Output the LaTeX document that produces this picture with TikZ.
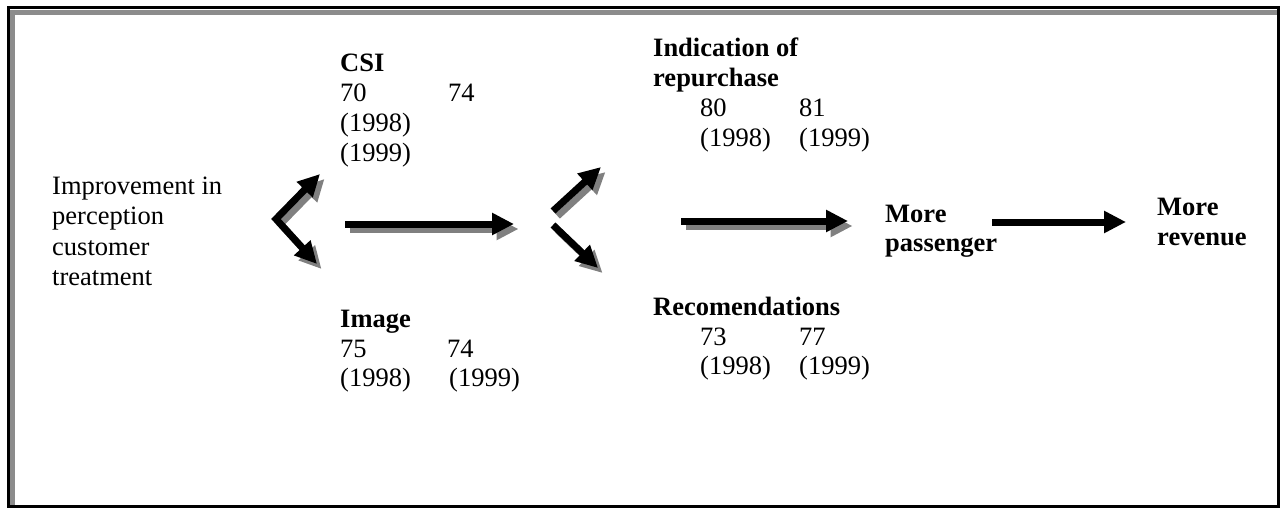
\documentclass[tikz,border=0pt]{standalone}
\usepackage{fontspec}
\setmainfont{Liberation Serif}
\usetikzlibrary{arrows.meta}
\begin{document}
\begin{tikzpicture}[x=1pt,y=-1pt,
  lbl/.style={anchor=base west, inner sep=0pt, font=\fontsize{26.5}{30}\selectfont},
  hd/.style={anchor=base west, inner sep=0pt, font=\fontsize{26.5}{30}\selectfont\bfseries},
  tip/.tip={Triangle[length=22pt,width=21pt]},
  flow/.style={line width=7pt, -tip},
  twoway/.style={line width=7pt, tip-tip, line join=miter},
  shade/.style={draw=black!50, transform canvas={shift={(4.5pt,-5pt)}}},
]
\useasboundingbox (0,0) rectangle (1280,508);

% page frame: black outline with a grey inner rule on top and left
\draw[line width=3pt] (8,7.5) rectangle (1278,506);
\draw[line width=4.5pt, black!45] (10,12.5) -- (1276.5,12.5);
\draw[line width=4.5pt, black!45] (12.5,10) -- (12.5,504.5);

% left statement
\node[lbl] (imp1) at (52,194) {Improvement in};
\node[lbl] (imp2) at (52,224.5) {perception};
\node[lbl] (imp3) at (52,255) {customer};
\node[lbl] (imp4) at (52,285.5) {treatment};

% CSI
\node[hd]  (csi)   at (340,72)  {CSI};
\node[lbl] (csiA)  at (340,102) {70};
\node[lbl] (csiB)  at (448,102) {74};
\node[lbl] (csiC)  at (340,132) {(1998)};
\node[lbl] (csiD)  at (340,162) {(1999)};

% Image
\node[hd]  (img)   at (340,327) {Image};
\node[lbl] (imgA)  at (340,357) {75};
\node[lbl] (imgB)  at (447,357) {74};
\node[lbl] (imgC)  at (340,386) {(1998)};
\node[lbl] (imgD)  at (449,386) {(1999)};

% Indication of repurchase
\node[hd]  (rep1)  at (653,57)  {Indication of};
\node[hd]  (rep2)  at (653,87)  {repurchase};
\node[lbl] (repA)  at (700,117) {80};
\node[lbl] (repB)  at (799,117) {81};
\node[lbl] (repC)  at (700,147) {(1998)};
\node[lbl] (repD)  at (799,147) {(1999)};

% Recomendations
\node[hd]  (rec)   at (653,315) {Recomendations};
\node[lbl] (recA)  at (700,345) {73};
\node[lbl] (recB)  at (799,345) {77};
\node[lbl] (recC)  at (700,374) {(1998)};
\node[lbl] (recD)  at (799,374) {(1999)};

% outcomes
\node[hd] (pas1) at (885,222) {More};
\node[hd] (pas2) at (885,251) {passenger};
\node[hd] (rev1) at (1157,215) {More};
\node[hd] (rev2) at (1157,245) {revenue};

% arrow end points
\coordinate (c1u) at (320,174);
\coordinate (c1v) at (276,219);
\coordinate (c1d) at (317,264);
\coordinate (h1a) at (345,224);
\coordinate (h1b) at (514,224);
\coordinate (c2us) at (553,211);
\coordinate (c2u) at (601,167);
\coordinate (c2ds) at (553,225);
\coordinate (c2d) at (598,268);
\coordinate (h2a) at (681,221);
\coordinate (h2b) at (848,221);
\coordinate (h3a) at (992,222);
\coordinate (h3b) at (1126,222);

% grey drop shadows
\draw[twoway, shade] (c1u) -- (c1v) -- (c1d);
\draw[flow, shade] (h1a) -- (h1b);
\draw[flow, shade] (c2us) -- (c2u);
\draw[flow, shade] (c2ds) -- (c2d);
\draw[flow, shade] (h2a) -- (h2b);

% black arrows
\draw[twoway] (c1u) -- (c1v) -- (c1d);
\draw[flow] (h1a) -- (h1b);
\draw[flow] (c2us) -- (c2u);
\draw[flow] (c2ds) -- (c2d);
\draw[flow] (h2a) -- (h2b);
\draw[flow] (h3a) -- (h3b);
\end{tikzpicture}
\end{document}
